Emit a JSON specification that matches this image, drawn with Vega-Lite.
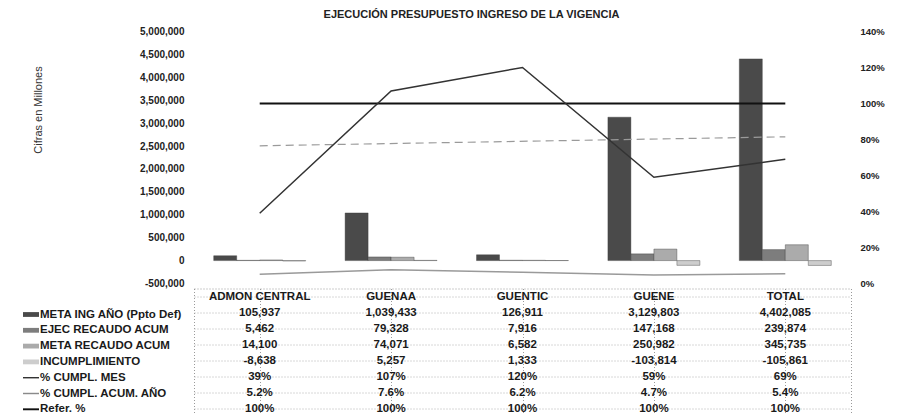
{
  "$schema": "https://vega.github.io/schema/vega-lite/v6.json",
  "padding": {"left": 22, "top": 8.5, "right": 5, "bottom": 0},
  "spacing": -3.5,
  "bounds": "full",
  "config": {
    "font": "Liberation Sans",
    "view": {"stroke": null},
    "locale": {"number": {"decimal": ".", "thousands": ",", "grouping": [3], "currency": ["$", ""], "minus": "-"}}
  },
  "datasets": {
    "tabla": [
      {"cat": "ADMON CENTRAL", "serie": "META ING AÑO (Ppto Def)", "valor": 105937},
      {"cat": "GUENAA", "serie": "META ING AÑO (Ppto Def)", "valor": 1039433},
      {"cat": "GUENTIC", "serie": "META ING AÑO (Ppto Def)", "valor": 126911},
      {"cat": "GUENE", "serie": "META ING AÑO (Ppto Def)", "valor": 3129803},
      {"cat": "TOTAL", "serie": "META ING AÑO (Ppto Def)", "valor": 4402085},
      {"cat": "ADMON CENTRAL", "serie": "EJEC RECAUDO ACUM", "valor": 5462},
      {"cat": "GUENAA", "serie": "EJEC RECAUDO ACUM", "valor": 79328},
      {"cat": "GUENTIC", "serie": "EJEC RECAUDO ACUM", "valor": 7916},
      {"cat": "GUENE", "serie": "EJEC RECAUDO ACUM", "valor": 147168},
      {"cat": "TOTAL", "serie": "EJEC RECAUDO ACUM", "valor": 239874},
      {"cat": "ADMON CENTRAL", "serie": "META RECAUDO ACUM", "valor": 14100},
      {"cat": "GUENAA", "serie": "META RECAUDO ACUM", "valor": 74071},
      {"cat": "GUENTIC", "serie": "META RECAUDO ACUM", "valor": 6582},
      {"cat": "GUENE", "serie": "META RECAUDO ACUM", "valor": 250982},
      {"cat": "TOTAL", "serie": "META RECAUDO ACUM", "valor": 345735},
      {"cat": "ADMON CENTRAL", "serie": "INCUMPLIMIENTO", "valor": -8638},
      {"cat": "GUENAA", "serie": "INCUMPLIMIENTO", "valor": 5257},
      {"cat": "GUENTIC", "serie": "INCUMPLIMIENTO", "valor": 1333},
      {"cat": "GUENE", "serie": "INCUMPLIMIENTO", "valor": -103814},
      {"cat": "TOTAL", "serie": "INCUMPLIMIENTO", "valor": -105861},
      {"cat": "ADMON CENTRAL", "serie": "% CUMPL. MES", "valor": 0.39},
      {"cat": "GUENAA", "serie": "% CUMPL. MES", "valor": 1.07},
      {"cat": "GUENTIC", "serie": "% CUMPL. MES", "valor": 1.20},
      {"cat": "GUENE", "serie": "% CUMPL. MES", "valor": 0.59},
      {"cat": "TOTAL", "serie": "% CUMPL. MES", "valor": 0.69},
      {"cat": "ADMON CENTRAL", "serie": "% CUMPL. ACUM. AÑO", "valor": 0.052},
      {"cat": "GUENAA", "serie": "% CUMPL. ACUM. AÑO", "valor": 0.076},
      {"cat": "GUENTIC", "serie": "% CUMPL. ACUM. AÑO", "valor": 0.062},
      {"cat": "GUENE", "serie": "% CUMPL. ACUM. AÑO", "valor": 0.047},
      {"cat": "TOTAL", "serie": "% CUMPL. ACUM. AÑO", "valor": 0.054},
      {"cat": "ADMON CENTRAL", "serie": "Refer. %", "valor": 1},
      {"cat": "GUENAA", "serie": "Refer. %", "valor": 1},
      {"cat": "GUENTIC", "serie": "Refer. %", "valor": 1},
      {"cat": "GUENE", "serie": "Refer. %", "valor": 1},
      {"cat": "TOTAL", "serie": "Refer. %", "valor": 1}
    ],
    "tendencia": [
      {"cat": "ADMON CENTRAL", "valor": 0.765},
      {"cat": "TOTAL", "valor": 0.815}
    ]
  },
  "resolve": {
    "scale": {"fill": "independent", "shape": "independent"},
    "legend": {"fill": "independent", "shape": "independent"}
  },
  "vconcat": [
    {
      "width": 657,
      "height": 252,
      "title": {
        "text": "EJECUCIÓN PRESUPUESTO INGRESO DE LA VIGENCIA",
        "font": "Liberation Sans", "fontSize": 11, "fontWeight": "bold", "color": "#222222",
        "anchor": "middle", "offset": 7, "dx": -51
      },
      "layer": [
        {
          "data": {"name": "tabla"},
          "transform": [{"filter": {"field": "serie", "oneOf": ["META ING AÑO (Ppto Def)", "EJEC RECAUDO ACUM", "META RECAUDO ACUM", "INCUMPLIMIENTO"]}}],
          "mark": {"type": "bar", "stroke": "#3a3a3a", "strokeWidth": 0.4},
          "encoding": {
            "x": {"field": "cat", "type": "nominal", "sort": ["ADMON CENTRAL", "GUENAA", "GUENTIC", "GUENE", "TOTAL"], "scale": {"paddingInner": 0.3, "paddingOuter": 0.15}, "axis": null},
            "xOffset": {"field": "serie", "type": "nominal", "sort": ["META ING AÑO (Ppto Def)", "EJEC RECAUDO ACUM", "META RECAUDO ACUM", "INCUMPLIMIENTO"], "scale": {"paddingInner": 0, "paddingOuter": 0}},
            "y": {
              "field": "valor", "type": "quantitative",
              "scale": {"domain": [-500000, 5000000], "nice": false, "zero": true},
              "axis": {
                "values": [-500000, 0, 500000, 1000000, 1500000, 2000000, 2500000, 3000000, 3500000, 4000000, 4500000, 5000000],
                "format": ",.0f",
                "labelOverlap": false,
                "labelFont": "Liberation Sans", "labelFontSize": 10, "labelFontWeight": "bold", "labelColor": "#222222",
                "labelPadding": 10, "ticks": false, "domain": false, "grid": false,
                "title": "Cifras en Millones", "titleFont": "Liberation Sans", "titleFontSize": 11, "titleFontWeight": "normal", "titleColor": "#333333",
                "titleX": -156, "titleY": 78, "titleAngle": -90, "titleAlign": "center", "titleBaseline": "middle"
              }
            },
            "fill": {
              "field": "serie", "type": "nominal",
              "scale": {"domain": ["META ING AÑO (Ppto Def)", "EJEC RECAUDO ACUM", "META RECAUDO ACUM", "INCUMPLIMIENTO"], "range": ["#4a4a4a", "#7d7d7d", "#ababab", "#cdcdcd"]},
              "legend": null
            }
          }
        },
        {
          "encoding": {
            "x": {"field": "cat", "type": "nominal", "sort": ["ADMON CENTRAL", "GUENAA", "GUENTIC", "GUENE", "TOTAL"], "axis": null},
            "y": {
              "field": "valor", "type": "quantitative",
              "scale": {"domain": [0, 1.4], "nice": false},
              "axis": {
                "orient": "right",
                "values": [0, 0.2, 0.4, 0.6, 0.8, 1.0, 1.2, 1.4],
                "format": ".0%",
                "labelOverlap": false,
                "labelFont": "Liberation Sans", "labelFontSize": 9.5, "labelFontWeight": "bold", "labelColor": "#222222",
                "labelPadding": 9, "ticks": false, "domain": false, "grid": false, "title": null
              }
            }
          },
          "layer": [
            {
              "data": {"name": "tendencia"},
              "mark": {"type": "line", "stroke": "#9a9a9a", "strokeWidth": 1.2, "strokeDash": [8, 5]}
            },
            {
              "data": {"name": "tabla"},
              "transform": [{"filter": "datum.serie === '% CUMPL. ACUM. AÑO'"}],
              "mark": {"type": "line", "stroke": "#9a9a9a", "strokeWidth": 1.5}
            },
            {
              "data": {"name": "tabla"},
              "transform": [{"filter": "datum.serie === 'Refer. %'"}],
              "mark": {"type": "line", "stroke": "#111111", "strokeWidth": 2}
            },
            {
              "data": {"name": "tabla"},
              "transform": [{"filter": "datum.serie === '% CUMPL. MES'"}],
              "mark": {"type": "line", "stroke": "#333333", "strokeWidth": 1.5}
            }
          ]
        }
      ],
      "resolve": {"scale": {"y": "independent"}}
    },
    {
      "width": 657,
      "height": 128,
      "view": {"stroke": "#9a9a9a", "strokeDash": [1, 2], "strokeWidth": 1},
      "data": {"name": "tabla"},
      "encoding": {
        "x": {
          "field": "cat", "type": "nominal", "sort": ["ADMON CENTRAL", "GUENAA", "GUENTIC", "GUENE", "TOTAL"],
          "scale": {"paddingInner": 0, "paddingOuter": 0},
          "axis": {"orient": "top", "labels": false, "ticks": false, "domain": false, "grid": true, "gridColor": "#9a9a9a", "gridDash": [1, 2], "bandPosition": 0, "title": null}
        }
      },
      "layer": [
        {
          "transform": [
            {"calculate": "datum.serie === '% CUMPL. ACUM. AÑO' ? format(datum.valor, '.1%') : ((datum.serie === '% CUMPL. MES' || datum.serie === 'Refer. %') ? format(datum.valor, '.0%') : format(datum.valor, ',.0f'))", "as": "etiqueta"}
          ],
          "mark": {"type": "text", "font": "Liberation Sans", "fontSize": 11.5, "fontWeight": "bold", "color": "#1a1a1a", "align": "center", "baseline": "middle"},
          "encoding": {
            "y": {
              "field": "serie", "type": "nominal",
              "scale": {"domain": ["ENCABEZADO", "META ING AÑO (Ppto Def)", "EJEC RECAUDO ACUM", "META RECAUDO ACUM", "INCUMPLIMIENTO", "% CUMPL. MES", "% CUMPL. ACUM. AÑO", "Refer. %"], "paddingInner": 0, "paddingOuter": 0},
              "axis": {"labels": false, "ticks": false, "domain": false, "grid": true, "gridColor": "#b0b0b0", "gridDash": [1, 2], "bandPosition": 0, "title": null}
            },
            "text": {"field": "etiqueta", "type": "nominal"}
          }
        },
        {
          "transform": [{"filter": "datum.serie === 'META ING AÑO (Ppto Def)'"}],
          "mark": {"type": "text", "font": "Liberation Sans", "fontSize": 11.5, "fontWeight": "bold", "color": "#1a1a1a", "align": "center", "baseline": "middle"},
          "encoding": {
            "y": {"datum": "ENCABEZADO", "type": "nominal"},
            "text": {"field": "cat", "type": "nominal"}
          }
        },
        {
          "transform": [{"filter": "false"}],
          "mark": {"type": "point", "filled": true, "opacity": 1, "size": 256},
          "encoding": {
            "fill": {
              "field": "serie", "type": "nominal",
              "scale": {"domain": ["META ING AÑO (Ppto Def)", "EJEC RECAUDO ACUM", "META RECAUDO ACUM", "INCUMPLIMIENTO", "% CUMPL. MES", "% CUMPL. ACUM. AÑO", "Refer. %"], "range": ["#4a4a4a", "#7d7d7d", "#ababab", "#cdcdcd", "#333333", "#8a8a8a", "#111111"]},
              "legend": {"orient": "none", "legendX": -171, "legendY": 18, "title": null, "padding": 0, "labelFont": "Liberation Sans", "labelFontSize": 11.5, "labelFontWeight": "bold", "labelColor": "#1a1a1a", "symbolSize": 256, "symbolOpacity": 1, "symbolStrokeWidth": 0, "rowPadding": 1.8, "labelOffset": 1, "labelLimit": 300}
            },
            "shape": {
              "field": "serie", "type": "nominal",
              "scale": {"domain": ["META ING AÑO (Ppto Def)", "EJEC RECAUDO ACUM", "META RECAUDO ACUM", "INCUMPLIMIENTO", "% CUMPL. MES", "% CUMPL. ACUM. AÑO", "Refer. %"], "range": ["M-1,-0.3H1V0.3H-1Z", "M-1,-0.3H1V0.3H-1Z", "M-1,-0.3H1V0.3H-1Z", "M-1,-0.3H1V0.3H-1Z", "M-1,-0.09H1V0.09H-1Z", "M-1,-0.09H1V0.09H-1Z", "M-1,-0.12H1V0.12H-1Z"]},
              "legend": {"orient": "none", "legendX": -171, "legendY": 18, "title": null, "padding": 0, "labelFont": "Liberation Sans", "labelFontSize": 11.5, "labelFontWeight": "bold", "labelColor": "#1a1a1a", "symbolSize": 256, "symbolOpacity": 1, "symbolStrokeWidth": 0, "rowPadding": 1.8, "labelOffset": 1, "labelLimit": 300}
            }
          }
        }
      ]
    }
  ]
}
